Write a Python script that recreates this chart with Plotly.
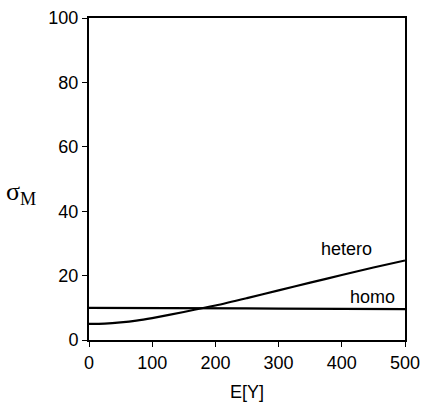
import plotly.graph_objects as go

# Mean-performance spread as a function of expected yield
e_y = [0, 25, 50, 75, 100, 150, 200, 250, 300, 350, 400, 450, 500]
sigma_hetero = [5.0, 5.1, 5.45, 6.0, 6.8, 8.7, 10.7, 13.0, 15.4, 17.8, 20.2, 22.5, 24.7]
sigma_homo = [10.0, 10.0, 10.0, 9.97, 9.95, 9.9, 9.85, 9.8, 9.75, 9.7, 9.65, 9.6, 9.6]

x_ticks = [0, 100, 200, 300, 400, 500]
y_ticks = [0, 20, 40, 60, 80, 100]

line_style = dict(color="black", width=2.2)
fig = go.Figure()
fig.add_trace(go.Scatter(x=e_y, y=sigma_hetero, mode="lines", line=line_style,
                         line_shape="spline", line_smoothing=0.8,
                         showlegend=False, name="hetero"))
fig.add_trace(go.Scatter(x=e_y, y=sigma_homo, mode="lines", line=line_style,
                         showlegend=False, name="homo"))

font = dict(family="Liberation Sans, Arial, sans-serif", size=18, color="black")

fig.add_annotation(x=408, y=28.3, text="hetero", showarrow=False, font=font,
                   xref="x", yref="y")
fig.add_annotation(x=448, y=13.4, text="homo", showarrow=False, font=font,
                   xref="x", yref="y")

axis_common = dict(showgrid=False, zeroline=False, showline=True, linecolor="black",
                   linewidth=2, mirror=True, ticks="outside", ticklen=5,
                   tickwidth=1, tickcolor="black", tickfont=font, automargin=False)

fig.update_layout(
    width=423, height=402,
    margin=dict(l=89, r=18, t=18, b=62),
    paper_bgcolor="white", plot_bgcolor="white",
    xaxis=dict(range=[0, 500], tickvals=x_ticks,
               title=dict(text="E[Y]", font=font, standoff=14), **axis_common),
    yaxis=dict(range=[0, 100], tickvals=y_ticks, **axis_common),
)

# y-axis title drawn horizontally with a subscript
fig.add_annotation(xref="paper", yref="paper", x=-0.215, y=0.455, xanchor="center",
                   yanchor="middle", showarrow=False,
                   text="σ<sub>M</sub>",
                   font=dict(family="Liberation Serif, Times New Roman, serif", size=26,
                             color="black"))

fig.write_html("out.html")
